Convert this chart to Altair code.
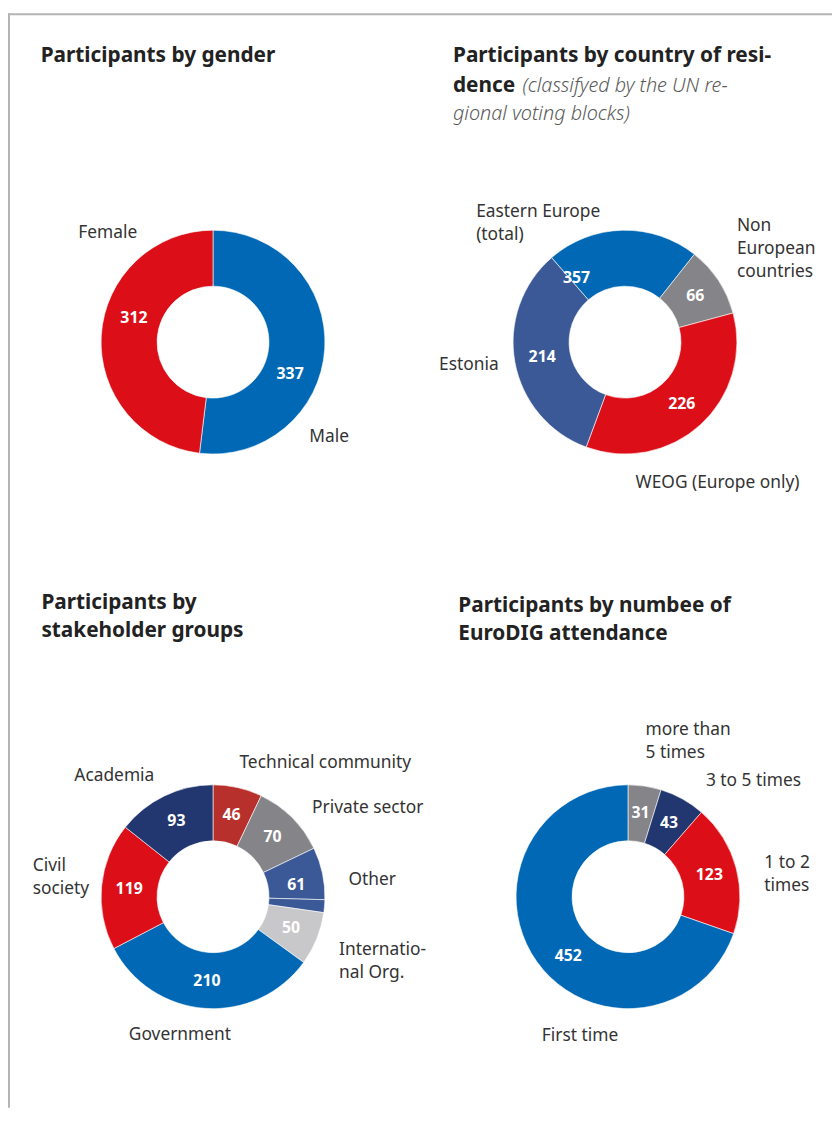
import math
import altair as alt
import pandas as pd

# ---------------- data ----------------
gender_cats = ["Male", "Female"]
gender_vals = [337, 312]
gender_labels = ["337", "312"]

# Eastern Europe total is 357 = 143 (rest of Eastern Europe) + 214 (Estonia)
country_cats = ["Eastern Europe", "Non European countries", "WEOG (Europe only)", "Estonia"]
country_vals = [143, 66, 226, 214]
country_labels = ["357", "66", "226", "214"]

# "Other" (61) is drawn in two parts, as in the source graphic
stake_cats = ["Technical community", "Private sector", "Other", "Other b",
              "International Org.", "Government", "Civil society", "Academia"]
stake_vals = [46, 70, 49, 12, 50, 210, 119, 93]
stake_labels = ["46", "70", "61", "", "50", "210", "119", "93"]

attend_cats = ["more than 5 times", "3 to 5 times", "1 to 2 times", "First time"]
attend_vals = [31, 43, 123, 452]
attend_labels = ["31", "43", "123", "452"]

# ---------------- styles ----------------
FONT = "Noto Sans"
BLUE = "#0068b4"
RED = "#dc0f18"
GRAY = "#858488"
NAVY = "#22366f"
SLATE = "#3b5997"
DARKRED = "#b8302b"
LIGHTGRAY = "#c8c7c9"

gender_colors = [BLUE, RED]
country_colors = [BLUE, GRAY, RED, SLATE]
stake_colors = [DARKRED, GRAY, SLATE, SLATE, LIGHTGRAY, BLUE, RED, NAVY]
attend_colors = [GRAY, NAVY, RED, BLUE]

R_OUT, R_IN, R_LAB = 113, 56.5, 85


def donut(cats, vals, labels, colors, cx, cy, start_deg=0.0, nudges=None):
    df = pd.DataFrame({"cat": cats, "value": vals, "label": labels,
                       "idx": list(range(len(cats)))})
    start = math.radians(start_deg)
    theta = alt.Theta("value:Q", stack=True,
                      scale=alt.Scale(range=[start, start + 2 * math.pi]))
    base = alt.Chart(df).encode(
        theta=theta,
        order=alt.Order("idx:Q"),
        detail=alt.Detail("idx:N"),
        x=alt.value(cx),
        y=alt.value(cy),
    )
    arcs = base.mark_arc(innerRadius=R_IN, outerRadius=R_OUT,
                         stroke="white", strokeWidth=0.6).encode(
        color=alt.Color("cat:N", scale=alt.Scale(domain=cats, range=colors),
                        legend=None)
    )
    nudges = nudges or {}
    keys = list(nudges.keys())
    arr = "[" + ",".join("'%s'" % k for k in keys) + "]"
    txt_style = dict(radius=R_LAB, font=FONT, fontSize=16, fontWeight="bold",
                     color="white", align="center", baseline="middle")
    main_txt = base.mark_text(**txt_style).transform_calculate(
        t="indexof(%s, datum.label) >= 0 ? '' : datum.label" % arr
    ).encode(text="t:N")
    layers = [arcs, main_txt]
    for k, (dx, dy) in nudges.items():
        layers.append(
            base.mark_text(dx=dx, dy=dy, **txt_style).transform_calculate(
                t="datum.label === '%s' ? datum.label : ''" % k
            ).encode(text="t:N")
        )
    return alt.layer(*layers)


one = pd.DataFrame({"k": [0]})


def note(s, x, y, size=17.5, weight="normal", style="normal", color="#333333",
         baseline="middle"):
    return alt.Chart(one).mark_text(
        text=s, align="left", baseline=baseline, font=FONT, fontSize=size,
        fontWeight=weight, fontStyle=style, color=color,
    ).encode(x=alt.value(x), y=alt.value(y))


def title(s, x, y):
    return note(s, x, y, size=21, weight="bold", color="#222222",
                baseline="alphabetic")


H = 1105
layers = []

# frame
layers.append(alt.Chart(one).mark_rule(color="#b4b4b4", strokeWidth=2).encode(
    x=alt.value(1), y=alt.value(0), y2=alt.value(H)))
layers.append(alt.Chart(one).mark_rule(color="#b4b4b4", strokeWidth=2).encode(
    x=alt.value(0), x2=alt.value(832), y=alt.value(1)))

# donuts
layers.append(donut(gender_cats, gender_vals, gender_labels, gender_colors,
                    207, 332, 0, nudges={"337": (-7, 27), "312": (5, -19)}))
layers.append(donut(country_cats, country_vals, country_labels, country_colors,
                    623, 332, -41, nudges={"357": (-47, 20)}))
layers.append(donut(stake_cats, stake_vals, stake_labels, stake_colors,
                    207, 892, 0, nudges={"61": (1, 6)}))
layers.append(donut(attend_cats, attend_vals, attend_labels, attend_colors,
                    626, 892, 0, nudges={"452": (9, 11)}))

# titles
layers += [
    title("Participants by gender", 33, 49.3),
    title("Participants by country of resi-", 449.3, 49.3),
    title("dence", 449.3, 79.7),
    note("(classifyed by the UN re-", 519.5, 79.7, size=20, weight=300,
         style="italic", color="#5a5a5a", baseline="alphabetic"),
    note("gional voting blocks)", 449.3, 108, size=20, weight=300,
         style="italic", color="#5a5a5a", baseline="alphabetic"),
    title("Participants by", 33.7, 601.3),
    title("stakeholder groups", 33.7, 629.3),
    title("Participants by numbee of", 454.7, 604.7),
    title("EuroDIG attendance", 454.7, 632.7),
]

# category labels
layers += [
    note("Female", 71, 222),
    note("Male", 304.3, 428),
    note("Eastern Europe", 472.7, 200.3),
    note("(total)", 472.7, 223.7),
    note("Non", 736, 215),
    note("European", 736, 238),
    note("countries", 736, 261),
    note("Estonia", 435.3, 354.7),
    note("WEOG (Europe only)", 633.7, 474.7),
    note("Academia", 67, 770.3),
    note("Technical community", 233.7, 757.5),
    note("Private sector", 307, 802.7),
    note("Civil", 25, 861),
    note("society", 25, 884),
    note("Other", 343.7, 875.3),
    note("Internatio-", 334.3, 946),
    note("nal Org.", 334.3, 969.5),
    note("Government", 122, 1032),
    note("more than", 643.7, 724),
    note("5 times", 643.7, 747),
    note("3 to 5 times", 704.7, 775.3),
    note("1 to 2", 763.7, 858),
    note("times", 763.7, 881),
    note("First time", 539, 1033),
]

chart = alt.layer(*layers).resolve_scale(
    theta="independent", color="independent"
).properties(
    width=832, height=H, padding=0,
    autosize=alt.AutoSizeParams(type="none"),
).configure_view(stroke=None)

chart.save("out.html", embed_options={"renderer": "svg", "actions": False})
